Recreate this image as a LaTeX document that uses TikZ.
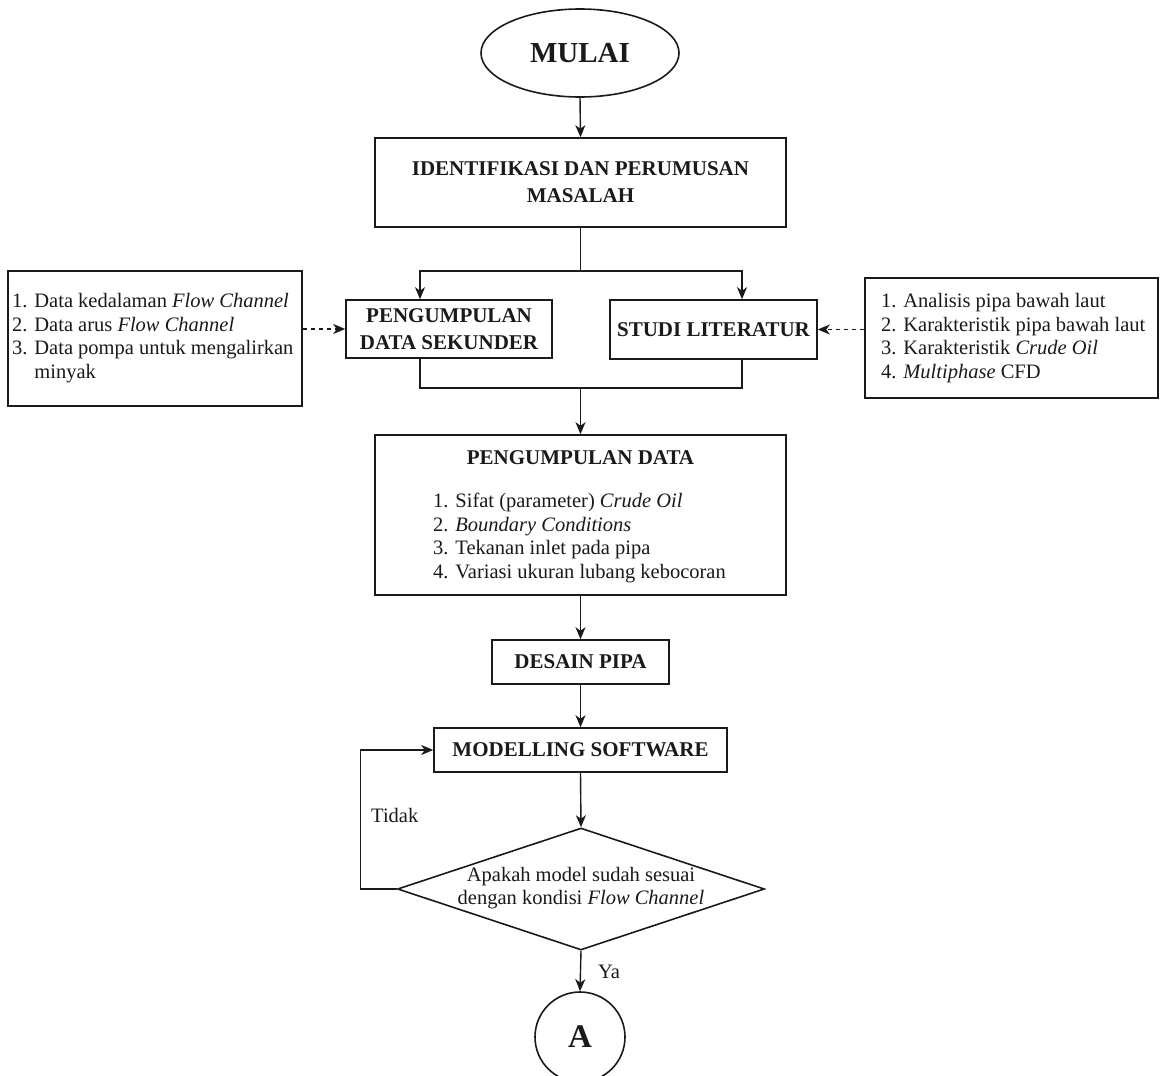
\documentclass[tikz,border=0pt]{standalone}
\usepackage{fontspec}
\setmainfont{Liberation Serif}
\usetikzlibrary{shapes.geometric,arrows.meta}
\definecolor{ink}{HTML}{1A1A1A}
\begin{document}
\begin{tikzpicture}[x=1pt,y=-1pt,
  box/.style={draw=ink, line width=1.6pt, rectangle, inner sep=0pt, align=center, text=ink},
  ttl/.style={font=\fontsize{21}{27}\selectfont\bfseries},
  txt/.style={font=\fontsize{20.5}{23.5}\selectfont, text=ink, inner sep=0pt},
  arr/.style={draw=ink, line width=1.4pt, -{Stealth[length=12pt,width=10pt,inset=3.5pt]}},
  dasharr/.style={arr, dash pattern=on 4pt off 4pt},
  conn/.style={draw=ink, line width=1.4pt}]
\useasboundingbox (0,0) rectangle (1162,1076);
\fill[white] (0,0) rectangle (1162,1076);

% nodes
\node[draw=ink, line width=1.6pt, ellipse, minimum width=198pt, minimum height=88pt, inner sep=0pt,
      font=\fontsize{29}{32}\selectfont\bfseries, text=ink] (start) at (580,53) {MULAI};
\node[box, ttl, minimum width=411pt, minimum height=89pt] (ident) at (580.5,182.5)
  {IDENTIFIKASI DAN PERUMUSAN\\MASALAH};
\node[box, ttl, minimum width=206pt, minimum height=58pt] (sek) at (449,329)
  {PENGUMPULAN\\DATA SEKUNDER};
\node[box, ttl, minimum width=207pt, minimum height=59pt] (studi) at (713.5,329.5)
  {STUDI LITERATUR};
\node[box, minimum width=294pt, minimum height=135pt] (leftbox) at (155,338.5) {};
\node[txt, anchor=west, align=left] (lefttext) at (12,338)
  {1. Data kedalaman \textit{Flow Channel}\\
   2. Data arus \textit{Flow Channel}\\
   3. Data pompa untuk mengalirkan\\
   \phantom{3. }minyak};
\node[box, minimum width=293pt, minimum height=120pt] (rightbox) at (1011.5,338) {};
\node[txt, anchor=west, align=left] (righttext) at (881,338)
  {1. Analisis pipa bawah laut\\
   2. Karakteristik pipa bawah laut\\
   3. Karakteristik \textit{Crude Oil}\\
   4. \textit{Multiphase} CFD};
\node[box, minimum width=411pt, minimum height=160pt] (data) at (580.5,515) {};
\node[ttl, text=ink, inner sep=0pt] (datatitle) at (580.5,458) {PENGUMPULAN DATA};
\node[txt, anchor=west, align=left] (datalist) at (433,538)
  {1. Sifat (parameter) \textit{Crude Oil}\\
   2. \textit{Boundary Conditions}\\
   3. Tekanan inlet pada pipa\\
   4. Variasi ukuran lubang kebocoran};
\node[box, ttl, minimum width=177pt, minimum height=44pt] (desain) at (580.5,662) {DESAIN PIPA};
\node[box, ttl, minimum width=293pt, minimum height=44pt] (model) at (580.5,750) {MODELLING SOFTWARE};
\node[draw=ink, line width=1.6pt, diamond, minimum width=367pt, minimum height=122pt, inner sep=0pt] (dec) at (581,889) {};
\node[txt, align=center] (dectext) at (581,888)
  {Apakah model sudah sesuai\\dengan kondisi \textit{Flow Channel}};
\node[draw=ink, line width=1.6pt, circle, minimum size=90pt, inner sep=0pt,
      font=\fontsize{33}{36}\selectfont\bfseries, text=ink] (circ) at (580,1037) {A};

% connectors
\coordinate (split) at (580.5,271);
\coordinate (join) at (580.5,388);
\draw[arr] (start.south) -- (ident.north);
\draw[conn] (ident.south) -- (split);
\draw[arr] (split) -| ([xshift=-29pt]sek.north);
\draw[arr] (split) -| ([xshift=28.5pt]studi.north);
\draw[conn] ([xshift=-29pt]sek.south) |- (join);
\draw[conn] ([xshift=28.5pt]studi.south) |- (join);
\draw[arr] (join) -- (data.north);
\draw[dasharr] (leftbox.east |- sek.west) -- (sek.west);
\draw[dasharr] (rightbox.west |- studi.east) -- (studi.east);
\draw[arr] (data.south) -- (desain.north);
\draw[arr] (desain.south) -- (model.north);
\draw[arr] (model.south) -- (dec.north);
\draw[arr] (dec.west) -- ++(-36.5,0) |- (model.west);
\draw[arr] (dec.south) -- (circ.north);
\node[txt, anchor=west] (tidak) at (371,815) {Tidak};
\node[txt, anchor=west] (ya) at (598,972) {Ya};
\end{tikzpicture}
\end{document}
